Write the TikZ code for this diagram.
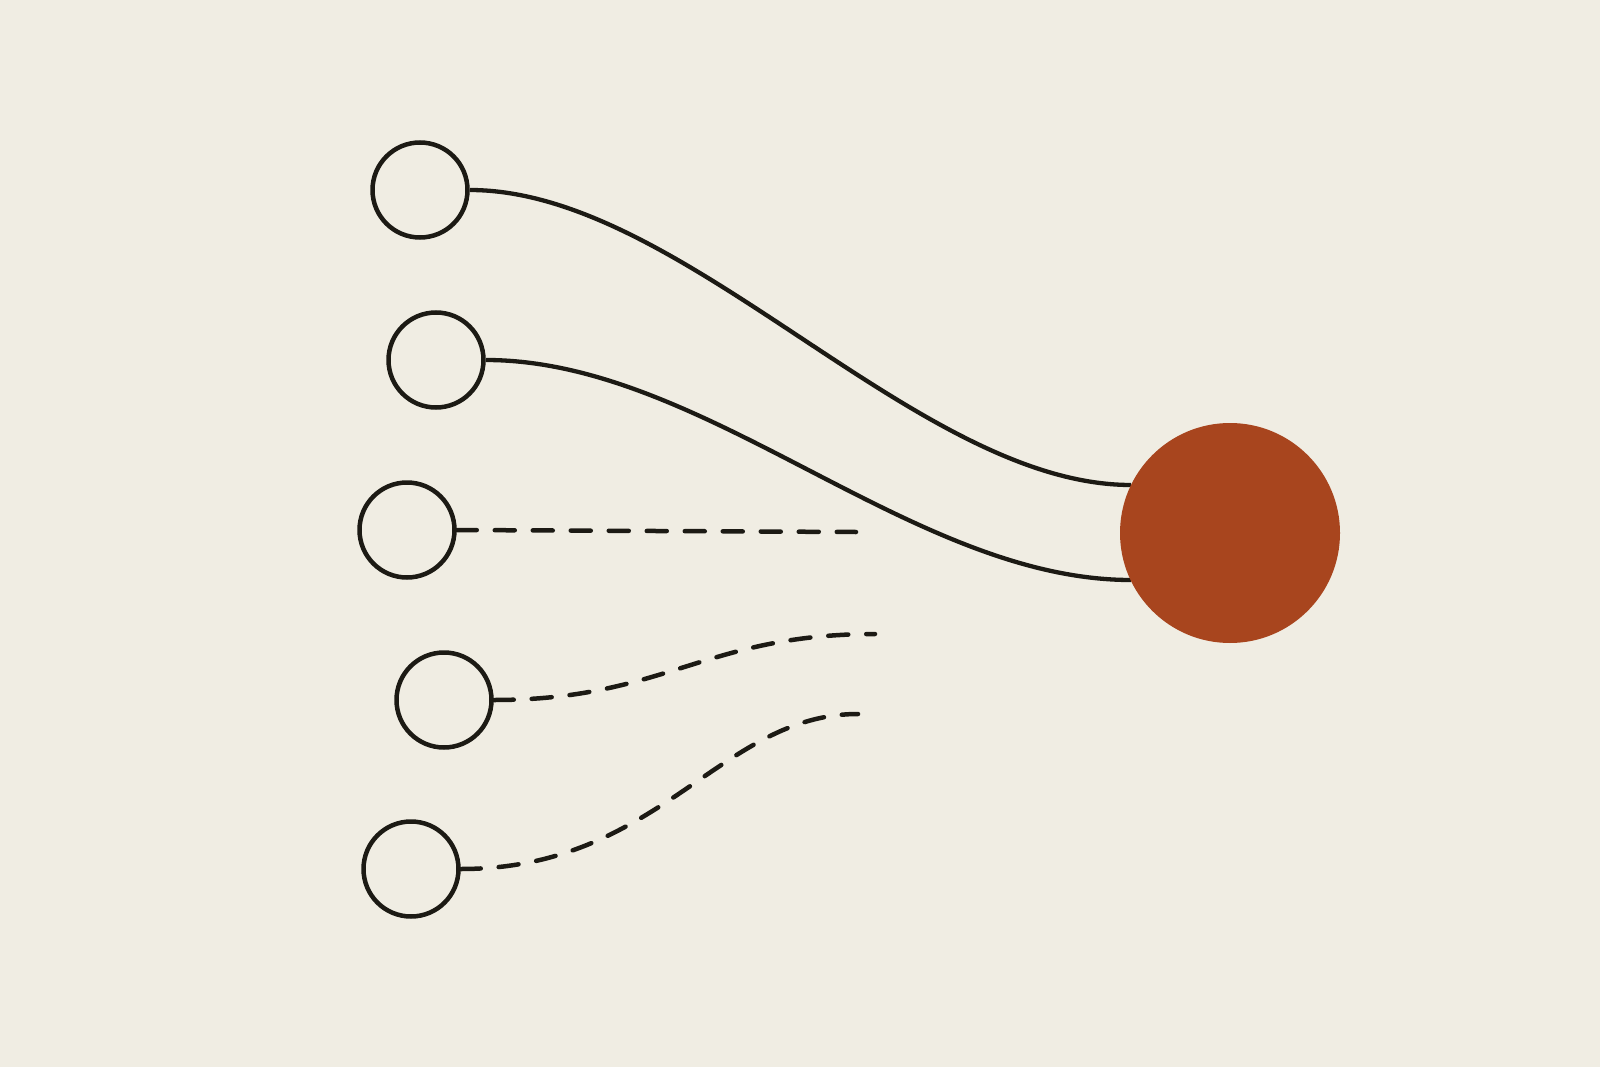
\documentclass[tikz,border=0pt]{standalone}
\usetikzlibrary{calc}
\definecolor{bgc}{HTML}{F0EDE3}
\definecolor{inkc}{HTML}{1C1A14}
\definecolor{rustc}{HTML}{A8451E}
\begin{document}
\begin{tikzpicture}[x=1pt,y=-1pt,
  srcnode/.style={circle,draw=inkc,line width=4.5pt,minimum size=95pt,inner sep=0pt,fill=bgc},
  hubnode/.style={circle,fill=rustc,minimum size=220pt,inner sep=0pt},
  solidlink/.style={draw=inkc,line width=4.3pt},
  dashlink/.style={draw=inkc,line width=4.5pt,line cap=round,dash pattern=on 20pt off 18pt}]
\fill[bgc] (0,0) rectangle (1600,1067);
\useasboundingbox (0,0) rectangle (1600,1067);
\node[srcnode] (s1) at (420,190) {};
\node[srcnode] (s2) at (436,360) {};
\node[srcnode] (s3) at (407,530) {};
\node[srcnode] (s4) at (444,700) {};
\node[srcnode] (s5) at (411,869) {};
\coordinate (e3) at (856,532);
\coordinate (e4) at (875,634);
\coordinate (e5) at (858,714);
\draw[solidlink] (s1.east) .. controls ($(s1.east)+(215,0)$) and (916,485) .. (1131,485);
\draw[solidlink] (s2.east) .. controls ($(s2.east)+(220,0)$) and (911,580) .. (1131,580);
\draw[dashlink] (s3.east) -- (e3);
\draw[dashlink] (s4.east) .. controls ($(s4.east)+(170,0)$) and ($(e4)+(-170,0)$) .. (e4);
\draw[dashlink] (s5.east) .. controls ($(s5.east)+(199,0)$) and ($(e5)+(-138,0)$) .. (e5);
\node[hubnode] (hub) at (1230,533) {};
\end{tikzpicture}
\end{document}
